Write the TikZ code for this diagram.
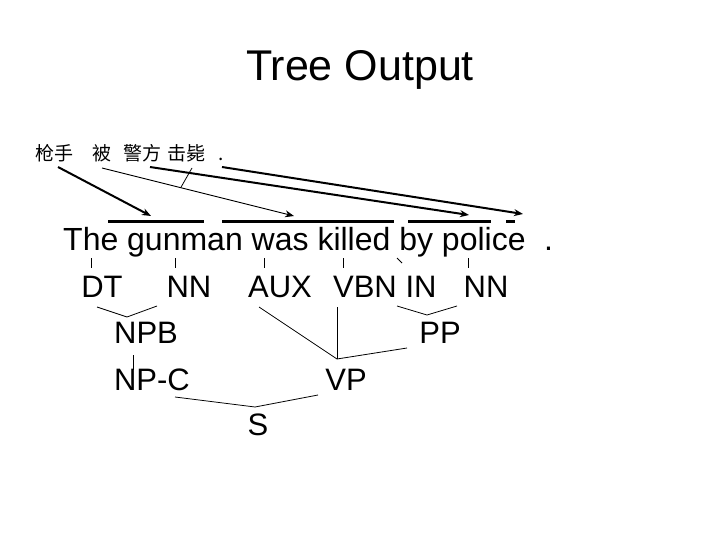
\documentclass[tikz,border=0pt]{standalone}
\usepackage{fontspec}
\setmainfont{Liberation Sans}
\newfontfamily\cjk{Noto Sans CJK SC}
\usetikzlibrary{arrows.meta,calc}
\begin{document}
\begin{tikzpicture}[x=1pt,y=-1pt,
  lab/.style={inner sep=0pt,anchor=base,font=\fontsize{31}{36}\selectfont},
  zh/.style={inner sep=0pt,anchor=base west,font=\cjk\fontsize{19}{22}\selectfont},
  thinln/.style={line width=0.8pt},
  thickarr/.style={line width=2pt,-{Stealth[length=9pt,width=7pt]}},
  thinarr/.style={line width=0.9pt,-{Stealth[length=9pt,width=7pt]}},
  bar/.style={line width=3pt}]
\useasboundingbox (0,0) rectangle (720,540);
% title
\node[inner sep=0pt,anchor=base,font=\fontsize{43}{50}\selectfont] (title) at (360,81) {Tree Output};
% chinese words
\node[zh] (z1) at (35,161) {枪手};
\node[zh] (z2) at (92,161) {被};
\node[zh] (z3) at (123,161) {警方};
\node[zh] (z4) at (167,161) {击毙};
\node[zh] (z5) at (218,161) {.};
% sentence
\node[inner sep=0pt,anchor=base west,font=\fontsize{32}{36}\selectfont] (sent) at (63,251) {The gunman was killed by police};
\node[inner sep=0pt,anchor=base west,font=\fontsize{32}{36}\selectfont] (dot) at (544,251) {.};
% arrow endpoints
\coordinate (a1s) at (58,167); \coordinate (a1e) at (151,216);
\coordinate (a2s) at (102,168); \coordinate (a2e) at (294,216);
\coordinate (a3s) at (150,167); \coordinate (a3e) at (469,215);
\coordinate (a4s) at (222,167); \coordinate (a4e) at (523,214);
\draw[thickarr] (a1s) -- (a1e);
\draw[thinarr] (a2s) -- (a2e);
\draw[thickarr] (a3s) -- (a3e);
\draw[thickarr] (a4s) -- (a4e);
\coordinate (ls) at (192,168);
\coordinate (le) at ($(a2s)!0.41!(a2e)$);
\draw[thinln] (ls) -- (le);
% bars
\coordinate (b1l) at (108,222); \coordinate (b1r) at (204,222);
\coordinate (b2l) at (222,222); \coordinate (b2r) at (394,222);
\coordinate (b3l) at (408,222); \coordinate (b3r) at (491,222);
\coordinate (b4l) at (506,222); \coordinate (b4r) at (515,222);
\draw[bar] (b1l) -- (b1r);
\draw[bar] (b2l) -- (b2r);
\draw[bar] (b3l) -- (b3r);
\draw[bar] (b4l) -- (b4r);
% ticks
\foreach \i/\x in {1/91,2/175,3/264,4/343,6/468}{
  \coordinate (t\i a) at (\x,258); \coordinate (t\i b) at (\x,268);
  \draw[thinln] (t\i a) -- (t\i b);}
\coordinate (t5a) at (397,258); \coordinate (t5b) at (402,263);
\draw[thinln] (t5a) -- (t5b);
% labels
\node[lab] (DT) at (102,297) {DT};
\node[lab] (NN1) at (189,297) {NN};
\node[lab] (AUX) at (280,297) {AUX};
\node[lab] (VBN) at (365,297) {VBN};
\node[lab] (IN) at (421,297) {IN};
\node[lab] (NN2) at (486,297) {NN};
\node[lab] (NPB) at (146,343) {NPB};
\node[lab] (PP) at (440,343) {PP};
\node[lab] (NPC) at (152,390) {NP-C};
\node[lab] (VP) at (346,390) {VP};
\node[lab] (S) at (258,435) {S};
% tree connectors
\coordinate (c1) at (97,307); \coordinate (j1) at (127,317); \coordinate (c2) at (157,306);
\draw[thinln] (c1) -- (j1) -- (c2);
\coordinate (c3) at (133,355); \coordinate (c4) at (133,370);
\draw[thinln] (c3) -- (c4);
\coordinate (c5) at (259,307); \coordinate (j2) at (337,359); \coordinate (c6) at (337,307); \coordinate (c7) at (407,348);
\draw[thinln] (c5) -- (j2) -- (c7);
\draw[thinln] (c6) -- (j2);
\coordinate (c8) at (397,306); \coordinate (j3) at (427,315); \coordinate (c9) at (457,306);
\draw[thinln] (c8) -- (j3) -- (c9);
\coordinate (c10) at (175,397); \coordinate (j4) at (255,407); \coordinate (c11) at (318,395);
\draw[thinln] (c10) -- (j4) -- (c11);
\end{tikzpicture}
\end{document}
